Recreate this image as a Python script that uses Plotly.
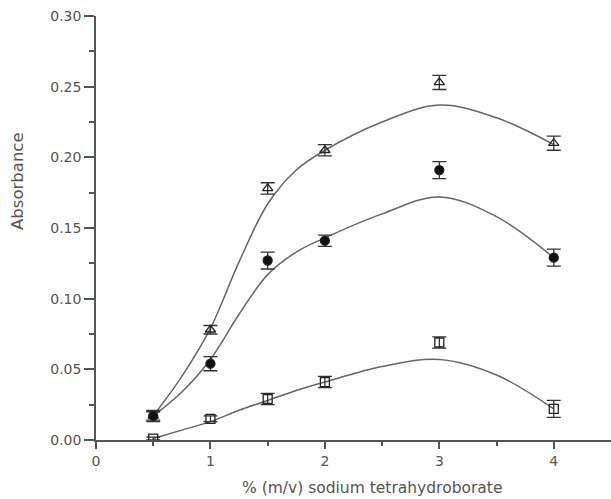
import plotly.graph_objects as go

x_pts = [0.5, 1, 1.5, 2, 3, 4]
tri_y = [0.017, 0.078, 0.178, 0.205, 0.253, 0.210]
tri_err = [0.003, 0.003, 0.004, 0.004, 0.005, 0.005]
cir_y = [0.017, 0.054, 0.127, 0.141, 0.191, 0.129]
cir_err = [0.004, 0.005, 0.006, 0.004, 0.006, 0.006]
sq_y = [0.001, 0.015, 0.029, 0.041, 0.069, 0.022]
sq_err = [0.001, 0.002, 0.004, 0.004, 0.004, 0.006]

x_fit = [0.5, 0.75, 1, 1.25, 1.5, 1.75, 2, 2.5, 3, 3.5, 4]
tri_fit = [0.017, 0.045, 0.079, 0.126, 0.167, 0.191, 0.205, 0.225, 0.237, 0.228, 0.209]
cir_fit = [0.017, 0.034, 0.057, 0.089, 0.117, 0.133, 0.143, 0.160, 0.172, 0.158, 0.129]
sq_fit = [0.001, 0.007, 0.013, 0.021, 0.028, 0.035, 0.041, 0.052, 0.057, 0.046, 0.022]

line_col = "#666666"
ax_col = "#555555"
fig = go.Figure()
for yf in [tri_fit, cir_fit, sq_fit]:
    fig.add_trace(go.Scatter(x=x_fit, y=yf, mode="lines",
                             line=dict(color=line_col, width=1.5, shape="spline", smoothing=1),
                             showlegend=False, hoverinfo="skip"))

def pts(y, err, symbol, color):
    return go.Scatter(x=x_pts, y=y, mode="markers",
                      marker=dict(symbol=symbol, size=9, color=color,
                                  line=dict(color="#222222", width=1.3)),
                      error_y=dict(type="data", array=err, visible=True,
                                   color="#333333", thickness=1.3, width=7),
                      showlegend=False)

fig.add_trace(pts(tri_y, tri_err, "triangle-up-open", "#222222"))
fig.add_trace(pts(cir_y, cir_err, "circle", "#111111"))
fig.add_trace(pts(sq_y, sq_err, "square-open", "#222222"))

font = dict(family="DejaVu Sans, sans-serif", size=14, color="#555555")
ytitle_font = dict(family="DejaVu Sans, sans-serif", size=16.5, color="#555555")
xtitle_font = dict(family="DejaVu Sans, sans-serif", size=15.5, color="#555555")
fig.update_layout(
    width=611, height=499,
    margin=dict(l=96, r=0, t=16, b=59),
    plot_bgcolor="white", paper_bgcolor="white",
    font=font,
    annotations=[
        dict(text="Absorbance", x=-0.1515, y=0.611, xref="paper", yref="paper",
             textangle=-90, showarrow=False, font=ytitle_font, xanchor="center", yanchor="middle"),
        dict(text="% (m/v) sodium tetrahydroborate", x=0.536, y=-0.113, xref="paper", yref="paper",
             showarrow=False, font=xtitle_font, xanchor="center", yanchor="middle"),
    ],
)
fig.update_xaxes(range=[0, 4.5], tickvals=[0, 1, 2, 3, 4], ticks="outside", ticklen=7,
                 tickcolor=ax_col, tickwidth=1.5,
                 showline=True, linecolor=ax_col, linewidth=1.5, showgrid=False, zeroline=False,
                 minor=dict(tickvals=[0.5, 1.5, 2.5, 3.5], ticks="outside", ticklen=4,
                            tickcolor=ax_col, tickwidth=1.5),
                 tickfont=font)
fig.update_yaxes(range=[0, 0.30], tickvals=[0, 0.05, 0.10, 0.15, 0.20, 0.25, 0.30],
                 tickformat=".2f", ticks="outside", ticklen=10,
                 tickcolor=ax_col, tickwidth=1.5,
                 showline=True, linecolor=ax_col, linewidth=1.5, showgrid=False, zeroline=False,
                 minor=dict(tickvals=[0.025, 0.075, 0.125, 0.175, 0.225, 0.275], ticks="outside",
                            ticklen=5, tickcolor=ax_col, tickwidth=1.5),
                 tickfont=font)
fig.write_html("out.html")
